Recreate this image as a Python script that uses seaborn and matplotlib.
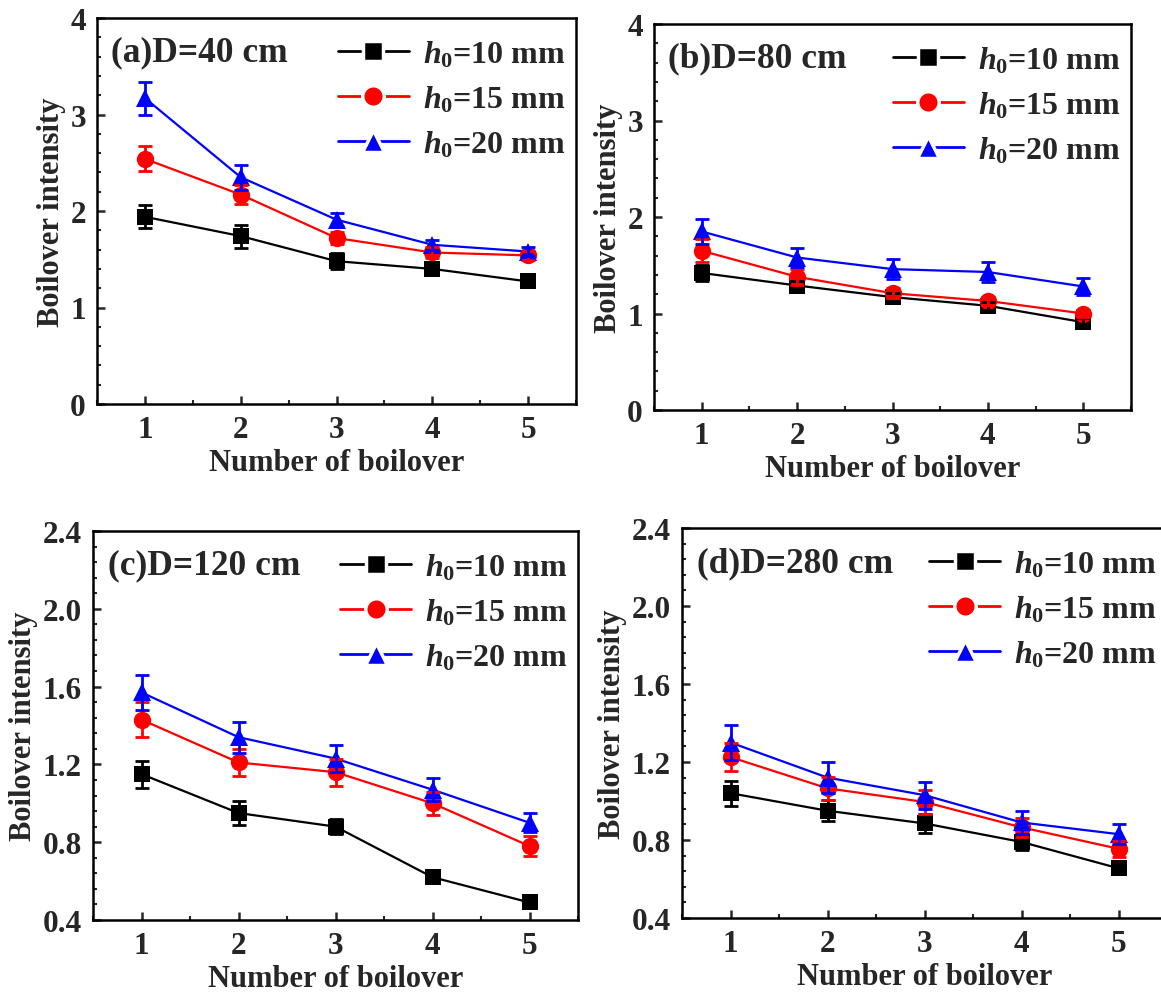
import numpy as np
import pandas as pd
import matplotlib
matplotlib.use("Agg")
import matplotlib.pyplot as plt
import seaborn as sns
from matplotlib.lines import Line2D
from matplotlib.ticker import MultipleLocator, FormatStrFormatter

# ---------------- data ----------------
n_boil = [1, 2, 3, 4, 5]
series_labels = ["10", "15", "20"]

panel_titles = ["(a)D=40 cm", "(b)D=80 cm", "(c)D=120 cm", "(d)D=280 cm"]

a_h10 = [1.94, 1.74, 1.48, 1.40, 1.27]
a_h15 = [2.54, 2.17, 1.72, 1.57, 1.54]
a_h20 = [3.17, 2.35, 1.91, 1.65, 1.58]
a_e10 = [0.12, 0.12, 0.08, 0.05, 0.05]
a_e15 = [0.13, 0.10, 0.06, 0.06, 0.05]
a_e20 = [0.17, 0.13, 0.07, 0.05, 0.05]

b_h10 = [1.42, 1.29, 1.17, 1.08, 0.91]
b_h15 = [1.65, 1.38, 1.21, 1.13, 1.00]
b_h20 = [1.85, 1.58, 1.46, 1.43, 1.28]
b_e10 = [0.08, 0.05, 0.04, 0.04, 0.04]
b_e15 = [0.12, 0.08, 0.05, 0.04, 0.04]
b_e20 = [0.13, 0.10, 0.10, 0.10, 0.09]

c_h10 = [1.15, 0.95, 0.88, 0.62, 0.49]
c_h15 = [1.43, 1.21, 1.16, 1.00, 0.78]
c_h20 = [1.57, 1.34, 1.23, 1.07, 0.90]
c_e10 = [0.07, 0.06, 0.04, 0.02, 0.02]
c_e15 = [0.09, 0.07, 0.07, 0.06, 0.05]
c_e20 = [0.09, 0.08, 0.07, 0.06, 0.05]

d_h10 = [1.04, 0.95, 0.885, 0.79, 0.655]
d_h15 = [1.225, 1.065, 0.995, 0.865, 0.755]
d_h20 = [1.30, 1.12, 1.03, 0.89, 0.83]
d_e10 = [0.065, 0.055, 0.05, 0.04, 0.03]
d_e15 = [0.07, 0.06, 0.06, 0.05, 0.04]
d_e20 = [0.09, 0.08, 0.07, 0.06, 0.05]

panels = [
    ([a_h10, a_h15, a_h20], [a_e10, a_e15, a_e20]),
    ([b_h10, b_h15, b_h20], [b_e10, b_e15, b_e20]),
    ([c_h10, c_h15, c_h20], [c_e10, c_e15, c_e20]),
    ([d_h10, d_h15, d_h20], [d_e10, d_e15, d_e20]),
]

# ---------------- style ----------------
sns.set_theme(style="ticks")
plt.rcParams["font.family"] = ["Liberation Serif", "DejaVu Serif"]
plt.rcParams["font.weight"] = "bold"
plt.rcParams["axes.labelweight"] = "bold"
plt.rcParams["mathtext.fontset"] = "custom"
plt.rcParams["mathtext.it"] = "Liberation Serif:italic:bold"
plt.rcParams["mathtext.rm"] = "Liberation Serif:bold"
plt.rcParams["mathtext.bf"] = "Liberation Serif:bold"

colors = ["#000000", "#FF0000", "#0000FF"]
markers = ["s", "o", "^"]
msizes = [12, 12.5, 13]

fig = plt.figure(figsize=(11.61, 9.95), dpi=100)
W, H = 1161.0, 995.0
# axes boxes in pixels: left, top, right, bottom
boxes = [
    (97, 19, 576, 405),
    (654, 25, 1131, 411),
    (93, 532, 578, 921),
    (682, 529, 1167, 919),
]
ylims = [(0, 4), (0, 4), (0.4, 2.4), (0.4, 2.4)]
ymajor = [1, 1, 0.4, 0.4]
yminor = [0.2, 0.2, 0.08, 0.08]

for i, (box, (vals, errs)) in enumerate(zip(boxes, panels)):
    l, t, r, b = box
    ax = fig.add_axes([l / W, 1 - b / H, (r - l) / W, (b - t) / H])
    rows = []
    for lab, v in zip(series_labels, vals):
        for x, y in zip(n_boil, v):
            rows.append({"n": x, "val": y, "h0": lab})
    df = pd.DataFrame(rows)
    sns.lineplot(data=df, x="n", y="val", hue="h0", style="h0",
                 markers=markers, dashes=False, palette=colors,
                 linewidth=1.6, markeredgewidth=0, ax=ax, legend=False,
                 errorbar=None)
    for ln, ms in zip(ax.get_lines(), msizes):
        ln.set_markersize(ms)
    for v, e, c in zip(vals, errs, colors):
        ax.errorbar(n_boil, v, yerr=e, fmt="none", ecolor=c,
                    elinewidth=2.0, capsize=5, capthick=2.0, zorder=5)

    ax.set_xlim(0.5, 5.5)
    ax.set_ylim(*ylims[i])
    ax.xaxis.set_major_locator(MultipleLocator(1))
    ax.xaxis.set_minor_locator(MultipleLocator(0.5))
    ax.yaxis.set_major_locator(MultipleLocator(ymajor[i]))
    ax.yaxis.set_minor_locator(MultipleLocator(yminor[i]))
    ax.yaxis.set_major_formatter(FormatStrFormatter("%.1f" if i >= 2 else "%d"))
    ax.tick_params(which="major", direction="in", length=6, width=1.8,
                   labelsize=22.5, pad=8, top=False, right=False)
    ax.tick_params(which="minor", direction="in", length=3, width=1.5,
                   top=False, right=False)
    for sp in ax.spines.values():
        sp.set_linewidth(1.8)
        sp.set_color("black")
    for lbl in ax.get_xticklabels() + ax.get_yticklabels():
        lbl.set_fontweight("bold")
    ax.set_xlabel("Number of boilover", fontsize=22, fontweight="bold", labelpad=3)
    ax.set_ylabel("Boilover intensity", fontsize=22, fontweight="bold", labelpad=3)

    ax.text(0.03, 0.912, panel_titles[i], transform=ax.transAxes,
            fontsize=25.5, fontweight="bold", va="center", ha="left")

    handles = []
    for c, m, ms in zip(colors, markers, msizes):
        handles.append(Line2D([], [], color=c, marker=m, markersize=ms + 3,
                              markeredgecolor="white", markeredgewidth=2.5,
                              linewidth=2.0))
    labels = [r"$\mathit{h}_{\mathit{0}}$=%s mm" % s for s in series_labels]
    ax.legend(handles, labels, loc="upper right", frameon=False,
              fontsize=23, handlelength=2.2, handletextpad=0.45,
              labelspacing=0.45, borderaxespad=0.25,
              bbox_to_anchor=(1.022, 1.0))

fig.savefig("out.png", dpi=100)
